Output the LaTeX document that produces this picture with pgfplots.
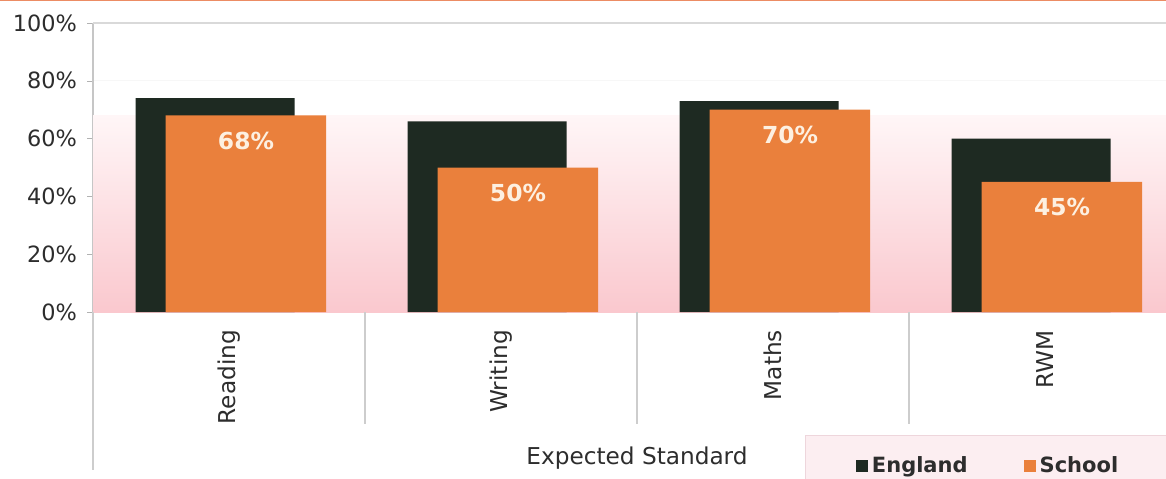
\documentclass[border=0pt]{standalone}
\usepackage{fontspec}
\setmainfont{DejaVu Sans}
\usepackage{pgfplots}
\pgfplotsset{compat=1.18}
\definecolor{eng}{RGB}{30,42,34}
\definecolor{sch}{RGB}{234,128,60}
\definecolor{pinkbot}{RGB}{250,200,206}
\definecolor{pinktop}{RGB}{255,246,247}
\definecolor{txt}{RGB}{45,45,45}
\definecolor{sep}{RGB}{205,205,205}
\definecolor{topline}{RGB}{236,140,100}
\definecolor{legfill}{RGB}{252,238,241}
\definecolor{legdraw}{RGB}{238,214,220}
\begin{document}
\begin{tikzpicture}
\path[use as bounding box] (0,0) rectangle (583pt,239pt);
\clip (0,0) rectangle (583pt,239pt);
\fill[white] (0,0) rectangle (583pt,239pt);
\draw[topline, line width=1.5pt] (0,239pt) -- (583pt,239pt);
\begin{axis}[
  at={(46.5pt,83pt)}, anchor=south west,
  scale only axis, width=544pt, height=144.5pt,
  xmin=-0.5, xmax=3.5, ymin=0, ymax=100,
  clip=false,
  ytick={0,20,...,100},
  yticklabel={\pgfmathprintnumber{\tick}\%},
  /pgf/number format/assume math mode=true,
  xtick={0,1,2,3}, xticklabels={Reading,Writing,Maths,RWM},
  x tick label style={yshift=-2.5pt, rotate=90, anchor=east, font=\fontsize{11.6}{13}\selectfont, text=txt},
  y tick label style={font=\fontsize{11.2}{13}\selectfont, text=txt, xshift=-1.5pt},
  major x tick style={draw=none},
  ytick style={draw=gray!60},
  tick align=outside, major tick length=3pt,
  axis x line*=bottom, axis y line*=left,
  axis line style={draw=gray!45, line width=0.6pt},
  ymajorgrids, grid style={draw=gray!6, line width=0.4pt},
  xlabel={Expected Standard},
  xlabel style={at={(axis description cs:0.5,0)}, anchor=center, yshift=-73pt, font=\fontsize{11.6}{13}\selectfont, text=txt},
  legend image code/.code={\fill[#1] (0pt,-3pt) rectangle (6pt,3pt);},
  legend columns=2,
  legend style={at={(axis description cs:0.654,-0.4256)}, anchor=north west,
    draw=legdraw, fill=legfill, inner xsep=25.5pt, inner ysep=8.5pt,
    font=\bfseries\fontsize{10.5}{12}\selectfont, text=txt,
    /tikz/every even column/.append style={column sep=26pt}},
]
% background shading of the plot area
\fill[top color=pinktop, bottom color=pinkbot] (axis cs:-0.5,0) rectangle (axis cs:3.5,68);
\draw[gray!30, line width=0.6pt] (axis cs:-0.5,100) -- (axis cs:3.5,100);
% category separators
\draw[sep, line width=0.6pt] (axis cs:-0.5,0) -- ++(0pt,-79pt);
\draw[sep, line width=0.6pt] (axis cs:0.5,0) -- ++(0pt,-56pt);
\draw[sep, line width=0.6pt] (axis cs:1.5,0) -- ++(0pt,-56pt);
\draw[sep, line width=0.6pt] (axis cs:2.5,0) -- ++(0pt,-56pt);
\draw[sep, line width=0.6pt] (axis cs:3.5,0) -- ++(0pt,-56pt);
\addplot[ybar, bar width=0.585, bar shift=-0.051, fill=eng, draw=none]
  coordinates {(0,74) (1,66) (2,73) (3,60)};
\addplot[ybar, bar width=0.59, bar shift=0.062, fill=sch, draw=none,
  nodes near coords={\pgfmathprintnumber{\pgfplotspointmeta}\%},
  every node near coord/.append style={anchor=center, yshift=-12.5pt, xshift=8.5pt,
    font=\bfseries\fontsize{11.7}{13}\selectfont, text={rgb,255:red,253;green,240;blue,225}}]
  coordinates {(0,68) (1,50) (2,70) (3,45)};
\legend{England,School}
\end{axis}
\end{tikzpicture}
\end{document}
